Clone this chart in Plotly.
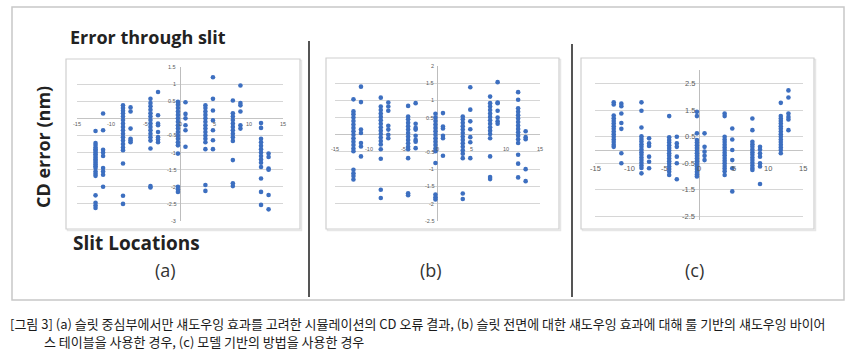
import plotly.graph_objects as go

W, H = 850, 360

# ---------------- data ----------------
slit_main_x = [-12.3, -8.3, -4.3, -0.3, 3.7, 7.7, 11.8]
slit_side_x = [-11.2, -7.2, -3.2, 0.8, 4.8, 8.8, 12.9]

a_main_y = [
    [-0.37, -0.72, -0.78, -0.85, -0.9, -0.95, -1.0, -1.05, -1.1, -1.15, -1.2, -1.25, -1.3, -1.35, -1.4, -1.45, -1.55, -1.62, -1.68, -2.25, -2.47, -2.55, -2.62],
    [0.38, 0.3, 0.22, 0.15, 0.05, -0.05, -0.15, -0.25, -0.35, -0.45, -0.55, -0.65, -0.75, -0.85, -0.93, -1.32, -2.26, -2.5],
    [0.57, 0.45, 0.35, 0.25, 0.15, 0.05, -0.05, -0.15, -0.25, -0.35, -0.45, -0.55, -0.65, -0.88, -1.98, -2.02],
    [0.48, 0.4, 0.3, 0.2, 0.1, 0.0, -0.1, -0.2, -0.3, -0.4, -0.5, -0.6, -0.7, -0.79, -1.03, -2.0, -2.08, -2.15],
    [0.38, 0.3, 0.2, 0.1, 0.0, -0.1, -0.2, -0.3, -0.4, -0.5, -0.6, -0.7, -0.9, -1.95, -2.12],
    [0.52, 0.15, 0.05, -0.05, -0.15, -0.25, -0.35, -0.45, -0.55, -0.66, -1.22, -1.9, -1.98],
    [-0.14, -0.28, -0.6, -0.7, -0.8, -0.9, -1.0, -1.1, -1.2, -1.3, -1.42, -1.76, -2.15, -2.53],
]
a_side_y = [
    [0.14, -0.35, -0.92, -1.0, -1.1, -1.45, -1.55, -1.65, -2.0],
    [0.32, 0.2, -0.3, -0.6, -0.65, -0.7],
    [0.77, 0.09, -0.15, -0.2, -0.4, -0.55, -0.62, -0.7],
    [0.47, 0.13, 0.0, -0.2, -0.35, -0.83],
    [1.2, 0.57, 0.23, -0.06, -0.35, -0.64, -0.9],
    [0.96, 0.45, 0.38, 0.2, -0.2, -0.3],
    [-1.03, -1.13, -1.47, -1.5, -2.24, -2.66],
]

b_main_y = [
    [1.03, 0.68, 0.6, 0.5, 0.4, 0.3, 0.2, 0.1, 0.0, -0.1, -0.2, -0.3, -0.4, -0.48, -1.02, -1.12, -1.2, -1.3],
    [1.08, 0.82, 0.72, 0.62, 0.52, 0.42, 0.32, 0.22, 0.12, 0.02, -0.08, -0.18, -0.28, -0.42, -0.7, -1.6, -1.84],
    [0.84, 0.53, 0.45, 0.35, 0.25, 0.15, 0.05, -0.05, -0.15, -0.25, -0.35, -0.42, -0.68, -1.7, -1.76],
    [0.61, 0.5, 0.4, 0.3, 0.2, 0.1, 0.0, -0.1, -0.2, -0.3, -0.4, -0.48, -0.82, -1.74, -1.82, -1.88],
    [0.53, 0.45, 0.35, 0.25, 0.15, 0.05, -0.05, -0.15, -0.25, -0.35, -0.45, -0.55, -0.68, -1.71, -1.87],
    [1.11, 0.92, 0.82, 0.72, 0.62, 0.52, 0.42, 0.32, 0.22, 0.12, 0.02, -0.1, -0.63, -1.23, -1.29],
    [1.24, 1.02, 0.77, 0.67, 0.57, 0.47, 0.37, 0.27, 0.17, 0.07, -0.03, -0.13, -0.24, -0.58, -0.84, -1.24],
]
b_side_y = [
    [1.4, 0.95, 0.15, 0.05, -0.24, -0.34, -0.63],
    [0.94, 0.82, 0.7, 0.26, 0.15, 0.0, -0.1],
    [0.92, 0.32, 0.2, 0.15, -0.03, -0.15, -0.2, -0.39],
    [0.63, 0.24, 0.18, -0.03, -0.1, -0.61],
    [1.38, 0.73, 0.39, 0.16, -0.07, -0.22, -0.68],
    [1.53, 0.94, 0.92, 0.7, 0.5, 0.39, 0.32],
    [0.1, -0.07, -0.13, -1.0, -1.35],
]

c_main_y = [
    [1.8, 1.72, 1.3, 1.2, 1.1, 1.0, 0.9, 0.8, 0.7, 0.6, 0.5, 0.4, 0.3, 0.2, 0.12],
    [1.8, 1.48, 0.85, 0.52, 0.42, 0.32, 0.22, 0.12, 0.02, -0.08, -0.18, -0.28, -0.38, -0.48, -0.58, -0.68, -0.88],
    [1.28, 0.48, 0.38, 0.28, 0.18, 0.08, -0.02, -0.12, -0.22, -0.32, -0.42, -0.52, -0.62, -0.72, -0.82, -0.94],
    [1.44, 1.28, 0.63, 0.38, 0.28, 0.18, 0.08, -0.02, -0.12, -0.22, -0.32, -0.42, -0.52, -0.62, -0.72, -0.82, -0.92, -1.0],
    [1.38, 1.28, 0.5, 0.4, 0.3, 0.2, 0.1, 0.0, -0.1, -0.2, -0.3, -0.4, -0.5, -0.6, -0.7, -0.8, -0.94],
    [1.19, 0.75, 0.31, 0.22, 0.12, 0.02, -0.08, -0.18, -0.28, -0.38, -0.48, -0.58, -0.68, -0.75],
    [1.78, 1.28, 1.19, 1.1, 1.0, 0.9, 0.8, 0.7, 0.6, 0.5, 0.4, 0.3, 0.2, 0.1, 0.0, -0.12],
]
c_side_y = [
    [1.75, 1.65, 1.38, 1.02, 0.8, -0.12, -0.5],
    [0.44, 0.25, 0.15, -0.25, -0.44, -0.69],
    [0.5, 0.25, 0.12, -0.25, -0.5, -1.1],
    [0.63, 0.12, -0.06, -0.22, -0.38],
    [0.81, 0.4, 0.0, -0.38, -0.69, -1.56],
    [0.12, 0.02, -0.12, -0.25, -0.5, -0.62, -1.28],
    [2.25, 1.98, 1.38, 1.25, 1.15, 0.75],
]

x_ticks = [-15, -10, -5, 0, 5, 10, 15]
x_tick_text = ["-15", "-10", "-5", "0", "5", "10", "15"]
a_y_ticks = [1.5, 1, 0.5, 0, -0.5, -1, -1.5, -2, -2.5, -3]
b_y_ticks = [2, 1.5, 1, 0.5, 0, -0.5, -1, -1.5, -2, -2.5]
c_y_ticks = [2.5, 1.5, 0.5, -0.5, -1.5, -2.5]

panel_labels = ["(a)", "(b)", "(c)"]
title_text = "Error through slit"
y_title_text = "CD error (nm)"
x_title_text = "Slit Locations"
caption_1 = "[그림 3] (a) 슬릿 중심부에서만 섀도우잉 효과를 고려한 시뮬레이션의 CD 오류 결과, (b) 슬릿 전면에 대한 섀도우잉 효과에 대해 룰 기반의 섀도우잉 바이어"
caption_2 = "스 테이블을 사용한 경우, (c) 모델 기반의 방법을 사용한 경우"

# ---------------- layout helpers ----------------
def px(x):
    return x / W

def py(y):
    return 1 - y / H

BLUE = "#3d6fc0"
GRID = "#d6d6d6"
TICKC = "#5a5a5a"

panels = [
    dict(dom=(77, 283, 67, 221), yr=(-3, 1.5), box=(66, 300, 59, 229), yt=a_y_ticks,
         main=a_main_y, side=a_side_y, fs=5.5, xshift_lab=-2, yshift_lab=-1, lab_x=165),
    dict(dom=(335, 540, 66, 220.7), yr=(-2.5, 2), box=(326, 559, 58, 229), yt=b_y_ticks,
         main=b_main_y, side=b_side_y, fs=5.5, xshift_lab=-2, yshift_lab=-9, lab_x=431),
    dict(dom=(595, 803, 70, 220), yr=(-2.64, 3.02), box=(581, 814, 58, 229), yt=c_y_ticks,
         main=c_main_y, side=c_side_y, fs=7.5, xshift_lab=-2, yshift_lab=-12, lab_x=694),
]

fig = go.Figure()
shapes = []
annotations = []

for i, p in enumerate(panels):
    sfx = "" if i == 0 else str(i + 1)
    xa, ya = "x" + sfx, "y" + sfx
    xs, ys = [], []
    for k in range(len(slit_main_x)):
        for v in p["main"][k]:
            xs.append(slit_main_x[k]); ys.append(v)
        for v in p["side"][k]:
            xs.append(slit_side_x[k]); ys.append(v)
    fig.add_trace(go.Scatter(x=xs, y=ys, mode="markers", xaxis=xa, yaxis=ya,
                             marker=dict(size=4.6, color=BLUE, line=dict(width=0)),
                             showlegend=False, cliponaxis=False))
    x0, x1, y0, y1 = p["dom"]
    fig.layout["xaxis" + sfx] = dict(domain=[px(x0), px(x1)], range=[-15, 15], showgrid=False,
                                     showticklabels=False, ticks="", zeroline=True,
                                     zerolinecolor="#bdbdbd", zerolinewidth=1, fixedrange=True,
                                     anchor=ya)
    fig.layout["yaxis" + sfx] = dict(domain=[py(y1), py(y0)], range=list(p["yr"]),
                                     tickvals=p["yt"], showticklabels=False, ticks="",
                                     showgrid=True, gridcolor=GRID, gridwidth=1.2,
                                     zeroline=True, zerolinecolor="#c4c4c4", zerolinewidth=1,
                                     fixedrange=True, anchor=xa)
    for v in p["yt"]:
        if v == 0:
            continue
        annotations.append(dict(x=0, y=v, xref=xa, yref=ya, text="%g" % v, showarrow=False,
                                xanchor="right", yanchor="middle", xshift=p["xshift_lab"],
                                font=dict(size=p["fs"], color=TICKC, family="Liberation Sans")))
    for v, t in zip(x_ticks, x_tick_text):
        annotations.append(dict(x=v, y=0, xref=xa, yref=ya, text=t, showarrow=False,
                                xanchor="center", yanchor="top", yshift=p["yshift_lab"],
                                font=dict(size=p["fs"], color=TICKC, family="Liberation Sans")))
    bx0, bx1, by0, by1 = p["box"]
    shapes.append(dict(type="rect", xref="paper", yref="paper", x0=px(bx0 + 1.5), x1=px(bx1 + 1.5),
                       y0=py(by1 + 1.5), y1=py(by0 + 1.5), line=dict(color="#e6e6e6", width=1.5),
                       fillcolor="rgba(0,0,0,0)", layer="below"))
    shapes.append(dict(type="rect", xref="paper", yref="paper", x0=px(bx0), x1=px(bx1),
                       y0=py(by1), y1=py(by0), line=dict(color="#cfcfcf", width=1.2),
                       fillcolor="white", layer="below"))
    annotations.append(dict(x=px(p["lab_x"]), y=py(270), xref="paper", yref="paper",
                            text=panel_labels[i], showarrow=False, xanchor="center", yanchor="middle",
                            font=dict(size=18, color="#333333", family="Open Sans")))

shapes.append(dict(type="rect", xref="paper", yref="paper", x0=px(12), x1=px(844), y0=py(300), y1=py(7),
                   line=dict(color="#c8c8c8", width=1.5), fillcolor="rgba(0,0,0,0)", layer="below"))
shapes.append(dict(type="line", xref="paper", yref="paper", x0=px(309), x1=px(309), y0=py(297), y1=py(41),
                   line=dict(color="#555555", width=2)))
shapes.append(dict(type="line", xref="paper", yref="paper", x0=px(572), x1=px(572), y0=py(297), y1=py(44),
                   line=dict(color="#555555", width=2)))

annotations += [
    dict(x=px(68), y=py(37), xref="paper", yref="paper", text="<b>" + title_text + "</b>",
         showarrow=False, xanchor="left", yanchor="middle",
         font=dict(size=18, color="#222222", family="Open Sans")),
    dict(x=px(43), y=py(147), xref="paper", yref="paper", text="<b>" + y_title_text + "</b>",
         showarrow=False, xanchor="center", yanchor="middle", textangle=-90,
         font=dict(size=18, color="#222222", family="Open Sans")),
    dict(x=px(71), y=py(243), xref="paper", yref="paper", text="<b>" + x_title_text + "</b>",
         showarrow=False, xanchor="left", yanchor="middle",
         font=dict(size=19, color="#222222", family="Open Sans")),
    dict(x=px(8), y=py(323), xref="paper", yref="paper", text=caption_1,
         showarrow=False, xanchor="left", yanchor="middle",
         font=dict(size=13, color="#1a1a1a", family="Noto Sans CJK KR")),
    dict(x=px(42), y=py(341), xref="paper", yref="paper", text=caption_2,
         showarrow=False, xanchor="left", yanchor="middle",
         font=dict(size=13, color="#1a1a1a", family="Noto Sans CJK KR")),
]

fig.update_layout(width=W, height=H, margin=dict(l=0, r=0, t=0, b=0),
                  paper_bgcolor="white", plot_bgcolor="rgba(0,0,0,0)",
                  shapes=shapes, annotations=annotations, showlegend=False)

fig.write_html("out.html", config={"displayModeBar": False},
               post_script="document.body.style.margin='0';document.body.style.overflow='hidden';")
